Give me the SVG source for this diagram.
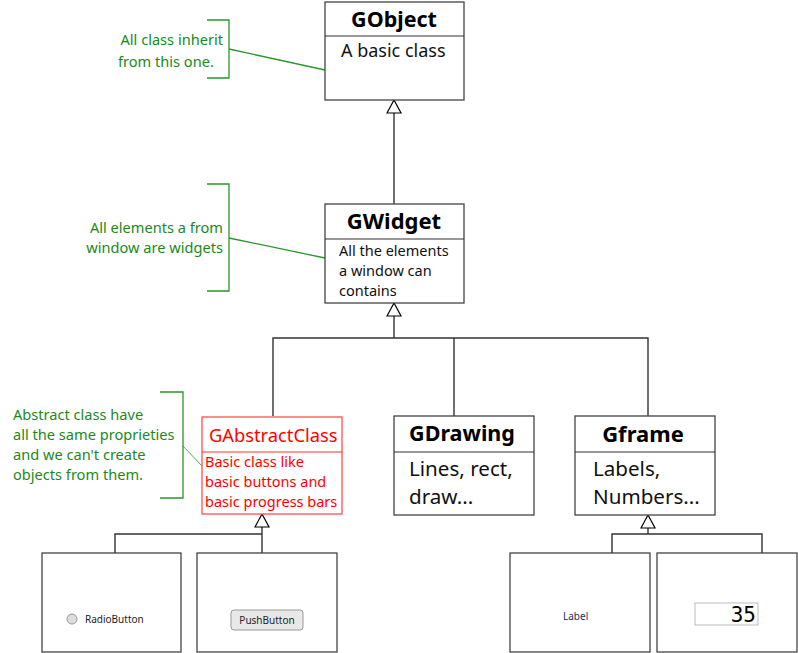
<svg xmlns="http://www.w3.org/2000/svg" width="798" height="653" viewBox="0 0 798 653">
<defs>
<marker id="tri" markerUnits="userSpaceOnUse" markerWidth="16" markerHeight="16" viewBox="-1 -1 15 16" refX="13" refY="7" orient="auto">
<path d="M0,0 L13,7 L0,14 Z" fill="#fff" stroke="#000" stroke-width="1.2"/>
</marker>
</defs>
<style>
text{font-family:"Noto Sans","Open Sans","DejaVu Sans",sans-serif;}
.box{fill:#fff;stroke:#444;stroke-width:1.3;}
.div{stroke:#333;stroke-width:1.2;}
.title{font-weight:bold;font-size:22px;fill:#000;text-anchor:middle;}
.body{font-size:14.5px;fill:#111;}
.big{font-size:20.6px;fill:#111;}
.note{font-size:14.6px;fill:#1a8a1a;}
.br{fill:none;stroke:#2a962a;stroke-width:1.3;}
.con{fill:none;stroke:#333;stroke-width:1.4;}
.red{fill:#ff0000;}
</style>
<g id="connectors">
<path class="con" d="M394,204 V100" marker-end="url(#tri)"/>
<path class="con" d="M394,338 V303" marker-end="url(#tri)"/>
<path class="con" d="M273,416 V338 H648 V416 M454,338 V416"/>
<path class="con" d="M262,553 V514" marker-end="url(#tri)"/>
<path class="con" d="M115,553 V534 H262"/>
<path class="con" d="M648,534 V515" marker-end="url(#tri)"/>
<path class="con" d="M612,553 V534 H762 V553"/>
</g>
<g id="note1">
<path class="br" d="M207,20 H229 V78 H207 M229,49 L325,70"/>
<text class="note" x="223" y="45" text-anchor="end">All class inherit</text>
<text class="note" x="118" y="67">from this one.</text>
</g>
<g id="note2">
<path class="br" d="M207,184 H229 V291 H207 M229,238 L325,258"/>
<text class="note" x="223" y="233" text-anchor="end">All elements a from</text>
<text class="note" x="223" y="253" text-anchor="end">window are widgets</text>
</g>
<g id="note3">
<path class="br" d="M160,392 H183 V498 H160"/>
<path d="M183,446 L202,466" fill="none" stroke="#2a962a" stroke-width="0.8"/>
<text class="note" x="13" y="420">Abstract class have</text>
<text class="note" x="13" y="440">all the same proprieties</text>
<text class="note" x="13" y="460">and we can't create</text>
<text class="note" x="13" y="480">objects from them.</text>
</g>
<g id="GObject">
<rect class="box" x="325" y="2" width="139" height="98"/>
<line class="div" x1="325" y1="36" x2="464" y2="36"/>
<text class="title" x="394" y="27" style="font-size:21.5px">GObject</text>
<text class="body" x="341" y="57" style="font-size:18px">A basic class</text>
</g>
<g id="GWidget">
<rect class="box" x="325" y="204" width="139" height="99"/>
<line class="div" x1="325" y1="239" x2="464" y2="239"/>
<text class="title" x="394" y="229">GWidget</text>
<text class="body" x="339" y="256">All the elements</text>
<text class="body" x="339" y="276">a window can</text>
<text class="body" x="339" y="296">contains</text>
</g>
<g id="GAbstractClass">
<rect x="202" y="417" width="140" height="97" fill="#fff" stroke="#ff5050" stroke-width="1.3"/>
<line x1="202" y1="452" x2="342" y2="452" stroke="#ff3030" stroke-width="1"/>
<text class="red" x="209" y="442" style="font-size:18.3px">GAbstractClass</text>
<text class="body red" x="205" y="467">Basic class like</text>
<text class="body red" x="205" y="487">basic buttons and</text>
<text class="body red" x="205" y="507">basic progress bars</text>
</g>
<g id="GDrawing">
<rect class="box" x="394" y="416" width="140" height="99"/>
<line class="div" x1="394" y1="452" x2="534" y2="452"/>
<text class="title" x="462" y="441" style="font-size:21.5px">GDrawing</text>
<text class="big" x="409" y="476">Lines, rect,</text>
<text class="big" x="409" y="504">draw...</text>
</g>
<g id="Gframe">
<rect class="box" x="575" y="416" width="140" height="99"/>
<line class="div" x1="575" y1="452" x2="715" y2="452"/>
<text class="title" x="643" y="442">Gframe</text>
<text class="big" x="593" y="476">Labels,</text>
<text class="big" x="593" y="504">Numbers...</text>
</g>
<g id="RadioButton">
<rect class="box" x="42" y="553" width="139" height="99"/>
<circle cx="72" cy="619" r="5" fill="#ddd" stroke="#999" stroke-width="1"/>
<text x="85" y="623" style="font-size:10px;fill:#222">RadioButton</text>
</g>
<g id="PushButton">
<rect class="box" x="197" y="553" width="140" height="99"/>
<rect x="231" y="610" width="72" height="20" rx="3" fill="#e8e8e8" stroke="#999" stroke-width="1"/>
<text x="267" y="624" text-anchor="middle" style="font-size:10px;fill:#222">PushButton</text>
</g>
<g id="Label">
<rect class="box" x="510" y="553" width="140" height="99"/>
<text x="563" y="620" style="font-size:10px;fill:#1a2a5a">Label</text>
</g>
<g id="LCDNumber">
<rect class="box" x="657" y="553" width="140" height="99"/>
<rect x="695" y="603" width="63" height="22" fill="#fff" stroke="#bbb" stroke-width="1"/>
<text x="756" y="622" text-anchor="end" style="font-family:'DejaVu Sans Mono',monospace;font-size:21px;fill:#000">35</text>
</g>
</svg>
